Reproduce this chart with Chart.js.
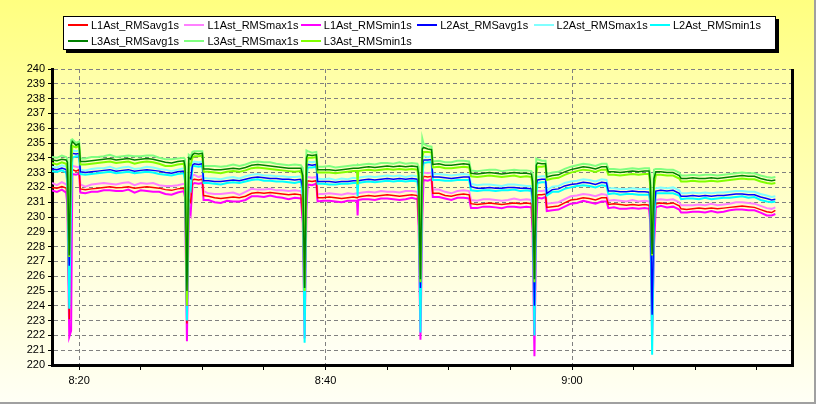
<!DOCTYPE html>
<html lang="en">
<head>
<meta charset="UTF-8" />
<title>RMS voltage per phase</title>
<style>
  html, body { margin: 0; padding: 0; }
  body { width: 816px; height: 404px; overflow: hidden; }
  #wrap {
    position: relative;
    width: 816px;
    height: 404px;
    background: linear-gradient(to bottom, #ffff80 0%, #fffff6 100%);
    font-family: Arial, "Liberation Sans", sans-serif;
  }
  #wrap::after {
    content: "";
    position: absolute;
    left: 0; top: 0; right: 0; bottom: 0;
    border-right: 2px solid #a0a0a0;
    border-bottom: 2px solid #a0a0a0;
    pointer-events: none;
  }
  canvas { position: absolute; left: 0; top: 0; }
  .legend {
    position: absolute;
    left: 63px;
    top: 16px;
    width: 707px;
    height: 32px;
    padding-left: 4px;
    background: #fff;
    border: 1px solid #000;
    box-shadow: 3px 3px 0 #000;
    display: flex;
    flex-wrap: wrap;
  }
  .item {
    width: 116.4px;
    height: 16px;
    line-height: 16px;
    font-size: 11px;
    color: #000;
    white-space: nowrap;
  }
  .swatch {
    display: inline-block;
    width: 20px;
    height: 2px;
    margin-right: 3px;
    vertical-align: middle;
    position: relative;
    top: -1px;
  }
</style>
<script src="https://cdn.jsdelivr.net/npm/chart.js"></script>
</head>
<body>
<div id="wrap">
  <canvas id="chart" width="816" height="404"></canvas>
  <div class="legend" id="legend"></div>
</div>

<script>
  // minutes after 8:00
  const times = [
    17.8, 18.2, 18.6, 18.95,
    19.05, 19.2, 19.35, 19.45, 19.75, 20.0, 20.1,
    20.5, 21, 21.5, 22, 22.5, 23, 23.5, 24, 24.5, 25, 25.5, 26, 26.5, 27, 27.5, 28, 28.5,
    28.6, 28.75, 28.9, 29.05, 29.2, 29.35, 29.7, 30.0, 30.1,
    30.5, 31, 31.5, 32, 32.5, 33, 33.5, 34, 34.5, 35, 35.5, 36, 36.5, 37, 37.5, 38.0,
    38.15, 38.3, 38.45, 38.55, 38.9, 39.25, 39.35,
    39.8, 40.3, 40.8, 41.3, 41.8, 42.25, 42.55, 42.6, 42.65, 43, 43.5, 44, 44.5, 45, 45.5, 46, 46.5, 47, 47.45,
    47.55, 47.7, 47.85, 47.95, 48.3, 48.6, 48.7,
    49.2, 49.7, 50.2, 50.7, 51.2, 51.65, 51.8, 52.3, 52.8, 53.3, 53.8, 54.3, 54.8, 55.3, 55.8, 56.3, 56.7,
    56.8, 56.95, 57.1, 57.2, 57.55, 57.85, 57.95,
    58.4, 58.9, 59.4, 59.9, 60.4, 60.9, 61.4, 61.9, 62.4, 62.8, 62.95, 63.4, 63.9, 64.4, 64.9, 65.4, 65.9, 66.25,
    66.35, 66.5, 66.65, 66.8,
    67.2, 67.7, 68.2, 68.7, 68.85, 69.3, 69.8, 70.3, 70.8, 71.3, 71.8, 72.3, 72.8, 73.3, 73.8, 74.3, 74.8, 75.3, 75.8, 76.2, 76.5
  ];

  const l1Avg = [
    232.0, 231.95, 232.05, 231.95,
    231.3, 223.1, 232.6, 233.2, 233.1, 233.2, 231.9,
    231.85, 231.9, 231.95, 232.0, 232.05, 231.98, 232.0, 232.05, 231.95, 232.0, 232.05, 232.0, 231.95, 231.85, 231.8, 231.9, 231.95,
    231.7, 222.8, 231.2, 231.0, 232.5, 232.55, 232.5, 232.55, 231.45,
    231.4, 231.3, 231.25, 231.3, 231.35, 231.3, 231.4, 231.6, 231.65, 231.6, 231.65, 231.6, 231.55, 231.5, 231.55, 231.5,
    230.0, 223.4, 232.0, 232.45, 232.4, 232.45, 231.3,
    231.3, 231.35, 231.3, 231.25, 231.3, 231.35, 231.3, 231.3, 231.35, 231.4, 231.45, 231.4, 231.45, 231.5, 231.45, 231.4, 231.45, 231.5, 231.45,
    229.8, 223.8, 232.2, 232.75, 232.7, 232.75, 231.6,
    231.6, 231.45, 231.4, 231.5, 231.55, 231.5, 230.9, 230.85, 230.9, 230.95, 230.9, 230.85, 230.9, 230.95, 230.9, 230.95, 230.9,
    229.4, 224.4, 231.0, 231.5, 231.5, 231.55, 230.65,
    230.7, 230.75, 230.95, 231.15, 231.2, 231.3, 231.25, 231.15, 231.3, 231.3, 230.85, 230.9, 230.85, 230.8, 230.85, 230.8, 230.85, 230.8,
    230.0, 222.2, 229.5, 230.9,
    230.95, 230.9, 230.95, 230.75, 230.55, 230.5, 230.55, 230.6, 230.55, 230.6, 230.55, 230.6, 230.65, 230.7, 230.75, 230.7, 230.65, 230.5, 230.35, 230.3, 230.45
  ];
  const l1Max = [
    232.3, 232.15, 232.35, 232.2,
    232.2, 226.5, 233.3, 233.45, 233.4, 233.35, 232.2,
    232.05, 232.2, 232.25, 232.3, 232.25, 232.2, 232.3, 232.35, 232.15, 232.3, 232.25, 232.3, 232.15, 232.1, 232.1, 232.15, 232.25,
    232.2, 226.0, 231.8, 231.6, 232.8, 232.85, 232.7, 232.8, 231.75,
    231.6, 231.55, 231.55, 231.6, 231.65, 231.5, 231.7, 231.9, 231.85, 231.85, 231.9, 231.8, 231.8, 231.75, 231.8, 231.75,
    231.3, 227.0, 232.7, 232.7, 232.65, 232.7, 231.55,
    231.55, 231.6, 231.55, 231.5, 231.6, 231.55, 231.6, 231.6, 231.6, 231.65, 231.7, 231.65, 231.75, 231.7, 231.7, 231.65, 231.75, 231.75, 231.7,
    231.2, 227.0, 232.9, 233.0, 232.95, 233.0, 231.85,
    231.85, 231.7, 231.6, 231.75, 231.8, 231.75, 231.15, 231.1, 231.2, 231.2, 231.15, 231.1, 231.15, 231.25, 231.15, 231.2, 231.15,
    230.6, 227.0, 231.7, 231.75, 231.75, 231.8, 230.9,
    230.95, 231.0, 231.2, 231.4, 231.45, 231.55, 231.5, 231.4, 231.55, 231.5, 231.1, 231.15, 231.1, 231.05, 231.15, 231.05, 231.1, 231.05,
    230.8, 226.0, 230.9, 231.15,
    231.2, 231.15, 231.2, 231.0, 230.8, 230.8, 230.8, 230.85, 230.8, 230.9, 230.8, 230.85, 230.9, 231.0, 231.0, 230.95, 230.9, 230.75, 230.6, 230.55, 230.65
  ];
  const l1Min = [
    231.8, 231.7, 231.85, 231.65,
    230.8, 221.9, 222.3, 232.9, 232.85, 232.95, 231.65,
    231.6, 231.7, 231.7, 231.8, 231.8, 231.75, 231.75, 231.85, 231.65, 231.8, 231.75, 231.7, 231.7, 231.55, 231.5, 231.65, 231.75,
    231.3, 221.6, 230.6, 230.2, 232.2, 232.3, 232.25, 232.3, 231.15,
    231.15, 231.0, 230.95, 231.1, 231.05, 231.05, 231.15, 231.4, 231.4, 231.35, 231.45, 231.35, 231.3, 231.2, 231.3, 231.25,
    229.6, 221.8, 230.5, 232.2, 232.15, 232.25, 231.05,
    231.1, 231.1, 231.05, 231.0, 231.1, 231.1, 231.1, 230.1, 231.15, 231.2, 231.2, 231.15, 231.25, 231.25, 231.2, 231.15, 231.2, 231.3, 231.2,
    229.4, 221.7, 230.0, 232.5, 232.45, 232.55, 231.35,
    231.35, 231.25, 231.15, 231.3, 231.3, 231.25, 230.6, 230.6, 230.7, 230.7, 230.65, 230.6, 230.7, 230.7, 230.65, 230.7, 230.65,
    229.0, 220.6, 229.7, 231.3, 231.25, 231.35, 230.4,
    230.45, 230.5, 230.7, 230.9, 230.95, 231.1, 231.0, 230.9, 231.05, 231.05, 230.6, 230.65, 230.55, 230.55, 230.6, 230.55, 230.6, 230.55,
    229.6, 222.0, 228.0, 230.65,
    230.75, 230.65, 230.7, 230.5, 230.3, 230.3, 230.35, 230.35, 230.3, 230.4, 230.3, 230.35, 230.45, 230.5, 230.5, 230.45, 230.45, 230.3, 230.1, 230.1, 230.2
  ];

  const l2Avg = [
    233.25, 233.2, 233.3, 233.2,
    232.5, 226.7, 233.6, 234.3, 234.25, 234.3, 233.05,
    233.0, 233.05, 233.1, 233.15, 233.2, 233.1, 233.15, 233.2, 233.1, 233.15, 233.2, 233.15, 233.1, 233.0, 232.95, 233.05, 233.1,
    232.8, 224.0, 232.7, 232.6, 233.5, 233.6, 233.55, 233.6, 232.45,
    232.45, 232.4, 232.4, 232.45, 232.5, 232.45, 232.55, 232.65, 232.7, 232.65, 232.6, 232.6, 232.55, 232.55, 232.5, 232.55,
    231.9, 225.2, 233.2, 233.55, 233.5, 233.55, 232.4,
    232.4, 232.4, 232.35, 232.4, 232.4, 232.45, 232.45, 232.45, 232.45, 232.5, 232.55, 232.5, 232.55, 232.6, 232.55, 232.6, 232.55, 232.6, 232.55,
    232.0, 225.2, 233.4, 233.85, 233.85, 233.88, 232.7,
    232.7, 232.65, 232.6, 232.65, 232.7, 232.7, 232.05, 231.95, 231.95, 232.0, 231.95, 231.95, 232.0, 232.0, 231.95, 231.95, 231.9,
    231.2, 224.0, 232.2, 232.5, 232.55, 232.55, 231.6,
    231.85, 231.9, 232.1, 232.2, 232.25, 232.35, 232.3, 232.2, 232.35, 232.3, 231.75, 231.75, 231.7, 231.7, 231.75, 231.7, 231.7, 231.68,
    231.2, 223.4, 230.5, 231.75,
    231.8, 231.75, 231.8, 231.6, 231.4, 231.4, 231.45, 231.4, 231.45, 231.4, 231.45, 231.45, 231.5, 231.55, 231.55, 231.5, 231.5, 231.35, 231.25, 231.15, 231.2
  ];
  const l2Max = [
    233.4, 233.35, 233.5, 233.4,
    233.4, 229.0, 234.4, 234.5, 234.45, 234.5, 233.2,
    233.15, 233.25, 233.3, 233.3, 233.4, 233.25, 233.35, 233.4, 233.25, 233.3, 233.4, 233.35, 233.25, 233.2, 233.1, 233.2, 233.3,
    233.3, 227.0, 233.3, 233.2, 233.7, 233.75, 233.7, 233.75, 232.65,
    232.6, 232.6, 232.55, 232.65, 232.7, 232.6, 232.75, 232.85, 232.9, 232.8, 232.8, 232.75, 232.75, 232.7, 232.7, 232.75,
    232.6, 228.0, 233.6, 233.75, 233.7, 233.75, 232.6,
    232.55, 232.6, 232.5, 232.6, 232.55, 232.65, 232.6, 232.6, 232.65, 232.7, 232.75, 232.7, 232.75, 232.8, 232.75, 232.8, 232.7, 232.8, 232.75,
    232.6, 228.0, 234.0, 234.1, 234.05, 234.1, 232.9,
    232.9, 232.85, 232.8, 232.85, 232.9, 232.85, 232.25, 232.15, 232.2, 232.2, 232.15, 232.1, 232.2, 232.2, 232.15, 232.1, 232.1,
    231.8, 227.5, 232.8, 232.7, 232.75, 232.75, 231.8,
    232.05, 232.1, 232.3, 232.4, 232.45, 232.55, 232.5, 232.4, 232.55, 232.5, 231.95, 231.95, 231.9, 231.9, 231.95, 231.9, 231.9, 231.9,
    231.8, 227.0, 231.9, 231.95,
    232.0, 231.95, 232.0, 231.8, 231.6, 231.6, 231.65, 231.6, 231.65, 231.6, 231.65, 231.65, 231.7, 231.75, 231.75, 231.7, 231.7, 231.55, 231.45, 231.35, 231.4
  ];
  const l2Min = [
    233.1, 233.05, 233.15, 233.0,
    232.2, 223.8, 231.0, 234.0, 234.1, 234.1, 232.9,
    232.85, 232.9, 232.95, 233.0, 233.05, 232.95, 233.0, 233.05, 232.95, 233.0, 233.05, 233.0, 232.9, 232.85, 232.8, 232.9, 232.95,
    232.4, 223.0, 232.0, 231.8, 233.4, 233.45, 233.4, 233.45, 232.3,
    232.3, 232.25, 232.2, 232.3, 232.35, 232.3, 232.4, 232.5, 232.55, 232.45, 232.45, 232.4, 232.4, 232.35, 232.3, 232.4,
    231.4, 221.5, 232.6, 233.35, 233.35, 233.4, 232.25,
    232.25, 232.2, 232.2, 232.25, 232.25, 232.3, 232.3, 231.4, 232.3, 232.35, 232.4, 232.35, 232.4, 232.45, 232.4, 232.45, 232.4, 232.45, 232.4,
    231.5, 222.2, 232.6, 233.65, 233.7, 233.7, 232.5,
    232.5, 232.45, 232.45, 232.5, 232.5, 232.5, 231.8, 231.75, 231.8, 231.8, 231.75, 231.8, 231.8, 231.85, 231.75, 231.8, 231.75,
    230.8, 222.0, 231.5, 232.3, 232.35, 232.35, 231.45,
    231.7, 231.7, 231.9, 232.0, 232.1, 232.15, 232.1, 232.0, 232.15, 232.1, 231.55, 231.6, 231.5, 231.55, 231.55, 231.5, 231.5, 231.5,
    230.9, 220.7, 229.5, 231.6,
    231.6, 231.6, 231.6, 231.45, 231.2, 231.25, 231.25, 231.2, 231.3, 231.2, 231.25, 231.3, 231.3, 231.35, 231.4, 231.3, 231.35, 231.15, 231.05, 231.0, 231.05
  ];

  const l3Avg = [
    233.85, 233.8, 233.9, 233.85,
    233.7, 227.4, 234.8, 235.1, 234.85, 234.95, 233.75,
    233.75, 233.8, 233.85, 233.9, 233.95, 233.85, 233.9, 233.95, 233.85, 233.9, 233.95, 233.9, 233.8, 233.7, 233.65, 233.75, 233.8,
    233.4, 225.0, 234.0, 233.9, 234.2, 234.3, 234.25, 234.3, 233.25,
    233.25, 233.2, 233.2, 233.25, 233.3, 233.25, 233.35, 233.5, 233.55, 233.5, 233.45, 233.4, 233.35, 233.3, 233.3, 233.3,
    232.8, 225.2, 234.0, 234.2, 234.15, 234.2, 233.2,
    233.2, 233.2, 233.15, 233.2, 233.25, 233.3, 233.3, 233.3, 233.3, 233.35, 233.4, 233.35, 233.4, 233.45, 233.4, 233.45, 233.4, 233.45, 233.4,
    232.9, 225.8, 234.6, 234.7, 234.6, 234.55, 233.55,
    233.6, 233.5, 233.5, 233.55, 233.6, 233.55, 232.95, 232.9, 232.95, 233.0, 232.95, 232.9, 232.95, 233.0, 232.95, 232.95, 232.9,
    232.4, 225.8, 233.5, 233.65, 233.6, 233.6, 232.7,
    232.8, 232.85, 233.05, 233.2, 233.3, 233.4, 233.35, 233.25, 233.4, 233.4, 233.05, 233.05, 233.0, 233.05, 233.1, 233.05, 233.1, 233.1,
    232.4, 227.5, 232.6, 233.05,
    233.05, 233.0, 233.0, 232.8, 232.6, 232.6, 232.65, 232.6, 232.6, 232.65, 232.6, 232.65, 232.7, 232.75, 232.8, 232.75, 232.75, 232.6, 232.5, 232.45, 232.5
  ];
  const l3Max = [
    234.05, 234.0, 234.15, 234.05,
    233.95, 231.0, 235.2, 235.25, 235.0, 235.1, 233.95,
    233.95, 234.05, 234.05, 234.1, 234.2, 234.05, 234.1, 234.15, 234.1, 234.1, 234.15, 234.15, 234.0, 233.9, 233.9, 233.95, 234.0,
    233.9, 228.0, 234.2, 234.1, 234.4, 234.45, 234.45, 234.45, 233.45,
    233.45, 233.45, 233.4, 233.45, 233.55, 233.45, 233.55, 233.7, 233.75, 233.7, 233.7, 233.6, 233.55, 233.5, 233.55, 233.5,
    233.3, 228.0, 234.5, 234.45, 234.35, 234.4, 233.4,
    233.4, 233.45, 233.35, 233.4, 233.45, 233.5, 233.5, 233.55, 233.5, 233.55, 233.6, 233.55, 233.65, 233.65, 233.6, 233.7, 233.6, 233.65, 233.6,
    233.4, 229.0, 235.3, 234.95, 234.8, 234.75, 233.75,
    233.8, 233.7, 233.7, 233.8, 233.8, 233.75, 233.15, 233.1, 233.15, 233.2, 233.2, 233.1, 233.15, 233.2, 233.15, 233.15, 233.1,
    232.9, 229.0, 233.95, 233.9, 233.8, 233.8, 232.9,
    233.0, 233.05, 233.25, 233.4, 233.5, 233.6, 233.55, 233.45, 233.6, 233.6, 233.25, 233.25, 233.2, 233.25, 233.3, 233.25, 233.3, 233.3,
    232.9, 229.0, 233.2, 233.25,
    233.25, 233.2, 233.2, 233.0, 232.8, 232.8, 232.85, 232.8, 232.85, 232.85, 232.8, 232.85, 232.9, 232.95, 233.0, 232.95, 232.95, 232.8, 232.7, 232.65, 232.7
  ];
  const l3Min = [
    233.65, 233.55, 233.7, 233.6,
    233.2, 227.3, 233.5, 234.8, 234.7, 234.8, 233.55,
    233.55, 233.6, 233.65, 233.7, 233.75, 233.65, 233.7, 233.75, 233.6, 233.7, 233.75, 233.7, 233.6, 233.45, 233.45, 233.55, 233.6,
    233.0, 224.0, 233.6, 233.5, 234.0, 234.1, 234.1, 234.15, 233.05,
    233.05, 233.0, 232.95, 233.05, 233.1, 233.05, 233.15, 233.3, 233.35, 233.3, 233.25, 233.2, 233.15, 233.1, 233.05, 233.1,
    232.5, 225.0, 233.6, 234.0, 234.0, 234.05, 233.0,
    233.0, 233.0, 232.95, 233.0, 233.05, 233.1, 233.1, 232.2, 233.1, 233.15, 233.2, 233.15, 233.2, 233.25, 233.2, 233.25, 233.2, 233.25, 233.2,
    232.6, 225.6, 234.0, 234.4, 234.4, 234.35, 233.35,
    233.4, 233.3, 233.3, 233.35, 233.4, 233.35, 232.75, 232.7, 232.75, 232.8, 232.75, 232.7, 232.75, 232.8, 232.7, 232.75, 232.7,
    232.1, 225.6, 232.9, 233.4, 233.4, 233.45, 232.5,
    232.6, 232.65, 232.85, 233.0, 233.1, 233.2, 233.15, 233.05, 233.2, 233.2, 232.85, 232.85, 232.8, 232.85, 232.9, 232.85, 232.9, 232.9,
    232.1, 227.4, 232.0, 232.85,
    232.85, 232.8, 232.8, 232.6, 232.4, 232.4, 232.45, 232.4, 232.4, 232.45, 232.4, 232.45, 232.5, 232.55, 232.6, 232.55, 232.55, 232.4, 232.3, 232.25, 232.3
  ];

  const seriesNames = [
    'L1Ast_RMSavg1s', 'L1Ast_RMSmax1s', 'L1Ast_RMSmin1s',
    'L2Ast_RMSavg1s', 'L2Ast_RMSmax1s', 'L2Ast_RMSmin1s',
    'L3Ast_RMSavg1s', 'L3Ast_RMSmax1s', 'L3Ast_RMSmin1s'
  ];
  const seriesValues = [l1Avg, l1Max, l1Min, l2Avg, l2Max, l2Min, l3Avg, l3Max, l3Min];
  const seriesColors = ['#ff0000', '#ff80ff', '#ff00ff', '#0000ff', '#80ffff', '#00ffff', '#008000', '#80ff80', '#80ff00'];
  // lower order is painted on top: L3 over L2 over L1, avg over its max/min
  const seriesOrder = [6, 8, 7, 3, 5, 4, 0, 2, 1];

  const yTicksMin = 220;
  const yTicksMax = 240;

  function timeLabel(v) {
    const m = 8 * 60 + v;
    return Math.floor(m / 60) + ':' + String(Math.round(m % 60)).padStart(2, '0');
  }

  // html legend, two rows like the original
  const legendEl = document.getElementById('legend');
  seriesNames.forEach((name, i) => {
    legendEl.insertAdjacentHTML('beforeend',
      `<div class="item"><span class="swatch" style="background:${seriesColors[i]}"></span>${name}</div>`);
  });

  const plotFrame = {
    id: 'plotFrame',
    beforeDraw(chart) {
      const { ctx, chartArea: a } = chart;
      const g = ctx.createLinearGradient(0, a.top, 0, a.bottom);
      g.addColorStop(0, '#ffffa6');
      g.addColorStop(1, '#fffff8');
      ctx.save();
      ctx.fillStyle = g;
      ctx.fillRect(a.left, a.top, a.right - a.left, a.bottom - a.top);
      ctx.restore();
    },
    afterDraw(chart) {
      const { ctx, chartArea: a } = chart;
      ctx.save();
      ctx.fillStyle = '#000';
      ctx.fillRect(a.right - 1, a.top, 3, a.bottom - a.top + 2);
      ctx.restore();
    }
  };

  const datasets = seriesNames.map((name, i) => ({
    label: name,
    data: times.map((t, k) => ({ x: t, y: seriesValues[i][k] })),
    borderColor: seriesColors[i],
    backgroundColor: seriesColors[i],
    borderWidth: i % 3 === 0 ? 1.5 : 2,
    pointRadius: 0,
    tension: 0,
    order: seriesOrder[i]
  }));

  const font = { family: 'Arial, "Liberation Sans", sans-serif', size: 11 };

  new Chart(document.getElementById('chart'), {
    type: 'line',
    data: { datasets },
    options: {
      responsive: false,
      animation: false,
      devicePixelRatio: 1,
      layout: { padding: { top: 69, right: 24, left: 0, bottom: 0 } },
      plugins: { legend: { display: false }, tooltip: { enabled: false } },
      scales: {
        x: {
          type: 'linear',
          min: 17.8,
          max: 77.85,
          afterFit: s => { s.height = 39; },
          ticks: {
            stepSize: 5,
            includeBounds: false,
            autoSkip: false,
            maxRotation: 0,
            padding: 4,
            color: '#000',
            font,
            callback: v => (v % 20 === 0 ? timeLabel(v) : '')
          },
          grid: {
            color: c => (c.tick && c.tick.value % 20 === 0 ? '#808080' : 'rgba(0,0,0,0)'),
            tickColor: '#000',
            tickLength: 5,
            lineWidth: 1
          },
          border: { color: '#000', width: 3, dash: [4, 3] }
        },
        y: {
          min: yTicksMin,
          max: yTicksMax,
          afterFit: s => { s.width = 52; },
          ticks: { stepSize: 1, autoSkip: false, padding: 3, color: '#000', font },
          grid: { color: '#808080', tickColor: '#000', tickLength: 4, lineWidth: 1 },
          border: { color: '#000', width: 3, dash: [4, 3] }
        }
      }
    },
    plugins: [plotFrame]
  });
</script>
</body>
</html>
